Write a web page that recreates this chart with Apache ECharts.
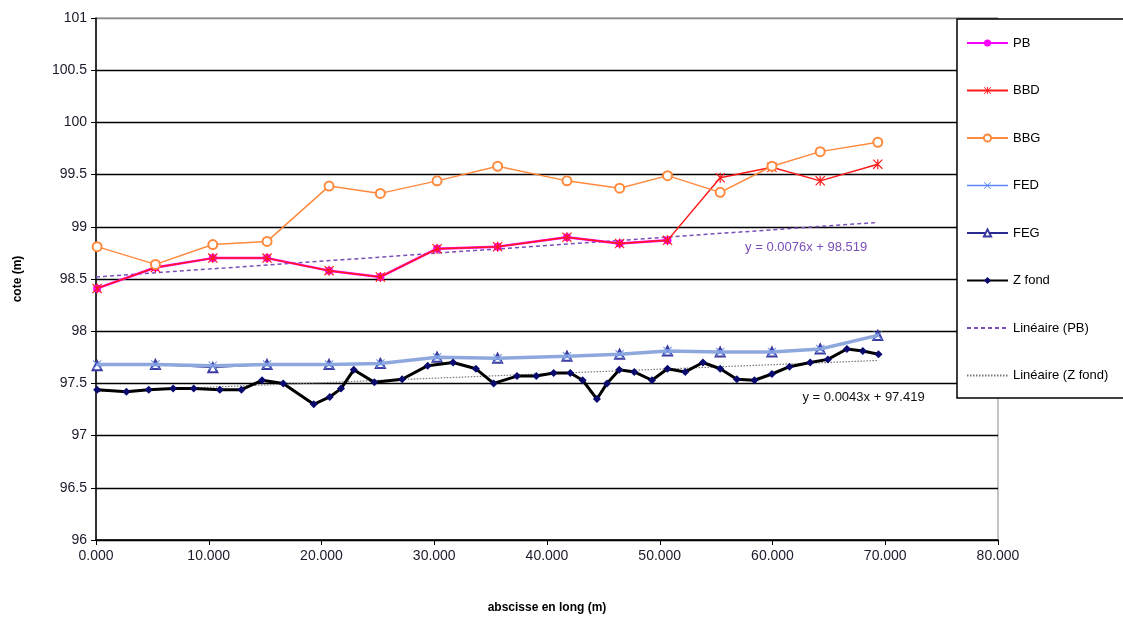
<!DOCTYPE html>
<html><head><meta charset="utf-8">
<script src="https://cdn.jsdelivr.net/npm/echarts@6/dist/echarts.min.js"></script>
<style>html,body{margin:0;padding:0;background:#fff}#c{width:1123px;height:619px}</style>
</head><body><div id="c"></div>
<script>
// ---- data ----
const xStations = [0.1, 5.27, 10.36, 15.17, 20.67, 25.22, 30.25, 35.62, 41.77, 46.44, 50.69, 55.36, 59.95, 64.23, 69.34];
const pbValues  = [98.41, 98.61, 98.70, 98.70, 98.58, 98.52, 98.79, 98.81, 98.90, 98.84, 98.87];
const bbdValues = [98.41, 98.61, 98.70, 98.70, 98.58, 98.52, 98.79, 98.81, 98.90, 98.84, 98.87, 99.47, 99.57, 99.44, 99.60];
const bbgValues = [98.81, 98.64, 98.83, 98.86, 99.39, 99.32, 99.44, 99.58, 99.44, 99.37, 99.49, 99.33, 99.58, 99.72, 99.81];
const fedValues = [97.68, 97.68, 97.67, 97.68, 97.68, 97.69, 97.75, 97.74, 97.76, 97.78, 97.81, 97.80, 97.80, 97.83, 97.96];
const fegValues = [97.67, 97.68, 97.65, 97.68, 97.68, 97.69, 97.75, 97.74, 97.76, 97.78, 97.81, 97.80, 97.80, 97.83, 97.96];
const zFondX = [0.1, 2.7, 4.68, 6.84, 8.67, 10.98, 12.9, 14.73, 16.6, 19.31, 20.73, 21.73, 22.86, 24.69, 27.15, 29.42, 31.67, 33.7, 35.27, 37.34, 39.05, 40.59, 42.07, 43.16, 44.43, 45.32, 46.41, 47.74, 49.31, 50.69, 52.26, 53.83, 55.36, 56.84, 58.4, 59.95, 61.51, 63.34, 64.91, 66.6, 68.01, 69.4];
const zFondValues = [97.44, 97.42, 97.44, 97.45, 97.45, 97.44, 97.44, 97.53, 97.50, 97.30, 97.37, 97.45, 97.63, 97.51, 97.54, 97.67, 97.70, 97.64, 97.50, 97.57, 97.57, 97.60, 97.60, 97.53, 97.35, 97.50, 97.63, 97.61, 97.53, 97.64, 97.61, 97.70, 97.64, 97.54, 97.53, 97.59, 97.66, 97.70, 97.73, 97.83, 97.81, 97.78];
const trendPB = [[0, 98.52], [69.1, 99.04]];
const trendZ  = [[0, 97.42], [69.4, 97.72]];
const eqPB = 'y = 0.0076x + 98.519';
const eqZ  = 'y = 0.0043x + 97.419';
const xTickLabels = ['0.000', '10.000', '20.000', '30.000', '40.000', '50.000', '60.000', '70.000', '80.000'];
const seriesNames = ['PB', 'BBD', 'BBG', 'FED', 'FEG', 'Z fond', 'Linéaire (PB)', 'Linéaire (Z fond)'];

// ---- helpers ----
const pair = (xs, ys) => ys.map((v, i) => [xs[i], v]);
const STAR = 'path://M4.4,0 L5.6,0 L5.6,10 L4.4,10 Z M0.8,0 L10,9.2 L9.2,10 L0,0.8 Z M9.2,0 L10,0.8 L0.8,10 L0,9.2 Z';
const XMARK = 'path://M0.8,0 L10,9.2 L9.2,10 L0,0.8 Z M9.2,0 L10,0.8 L0.8,10 L0,9.2 Z';
const FONT = 'Liberation Sans';

const chart = echarts.init(document.getElementById('c'));
const splitColors = new Array(10).fill('#000').concat(['#8a8a8a']);
const legendData = seriesNames.map(n => {
  if (n.indexOf('Linéaire') === 0) return { name: n, itemStyle: { opacity: 0 } };
  if (n === 'FED') return { name: n, lineStyle: { color: '#5a86f5', width: 1.5 }, itemStyle: { color: '#5a86f5' } };
  return { name: n };
});

chart.setOption({
  animation: false,
  backgroundColor: '#fff',
  textStyle: { fontFamily: FONT },
  grid: { left: 96, right: 125, top: 18, bottom: 79, show: true, borderColor: '#8a8a8a', borderWidth: 1 },
  xAxis: {
    type: 'value', min: 0, max: 80, interval: 10,
    name: 'abscisse en long (m)', nameLocation: 'middle', nameGap: 62,
    nameTextStyle: { fontFamily: FONT, fontSize: 12, fontWeight: 'bold', color: '#000' },
    axisLine: { show: true, onZero: false, lineStyle: { color: '#000', width: 1.5 } },
    axisTick: { show: true, inside: false, length: 5, lineStyle: { color: '#000' } },
    axisLabel: { margin: 9, fontSize: 14, color: '#1a1a2a', fontFamily: FONT,
      formatter: (v) => xTickLabels[Math.round(v / 10)] },
    splitLine: { show: false }
  },
  yAxis: {
    type: 'value', min: 96, max: 101, interval: 0.5,
    name: 'cote (m)', nameLocation: 'middle', nameGap: 72, nameRotate: 90,
    nameTextStyle: { fontFamily: FONT, fontSize: 12, fontWeight: 'bold', color: '#000' },
    axisLine: { show: true, lineStyle: { color: '#000', width: 1.5 } },
    axisTick: { show: true, inside: false, length: 5, lineStyle: { color: '#000' } },
    axisLabel: { margin: 9, fontSize: 14, color: '#1a1a2a', fontFamily: FONT },
    splitLine: { show: true, lineStyle: { color: splitColors, width: 1.3 } }
  },
  legend: {
    orient: 'vertical', left: 966, top: 36, padding: 0,
    itemWidth: 41, itemHeight: 9, itemGap: 33.5,
    textStyle: { fontFamily: FONT, fontSize: 13, color: '#000', lineHeight: 14 },
    data: legendData, z: 60
  },
  graphic: [{
    type: 'rect', z: 50, silent: true,
    shape: { x: 957, y: 19, width: 200, height: 379 },
    style: { fill: '#fff', stroke: '#000', lineWidth: 1.5 }
  }],
  series: [
    { name: 'Linéaire (PB)', type: 'line', data: trendPB, symbol: 'none', z: 3,
      lineStyle: { color: '#7a4fb8', width: 1.5, type: [4, 3] }, itemStyle: { color: '#7a4fb8' },
      endLabel: { show: true, formatter: eqPB, color: '#7a4fb8', fontSize: 13, fontFamily: FONT,
        offset: [-130, 25], distance: 0 } },
    { name: 'Linéaire (Z fond)', type: 'line', data: trendZ, symbol: 'none', z: 3,
      lineStyle: { color: '#777', width: 1.2, type: [1.5, 1.5] }, itemStyle: { color: '#777' },
      endLabel: { show: true, formatter: eqZ, color: '#111', fontSize: 13, fontFamily: FONT,
        offset: [-76, 37], distance: 0 } },
    { name: 'PB', type: 'line', data: pair(xStations, pbValues), z: 4,
      symbol: 'circle', symbolSize: 8, lineStyle: { color: '#ff00ff', width: 2.5 }, itemStyle: { color: '#ff00ff' } },
    { name: 'BBD', type: 'line', data: pair(xStations, bbdValues), z: 5,
      symbol: STAR, symbolSize: 10, lineStyle: { color: '#ff1a1a', width: 1.5 }, itemStyle: { color: '#ff1a1a' } },
    { name: 'BBG', type: 'line', data: pair(xStations, bbgValues), z: 5,
      symbol: 'emptyCircle', symbolSize: 9, lineStyle: { color: '#ff8a3d', width: 1.5 },
      itemStyle: { color: '#ff8a3d', borderWidth: 1.5 } },
    { name: 'FED', type: 'line', data: pair(xStations, fedValues), z: 4.5,
      symbol: XMARK, symbolSize: 9, lineStyle: { color: '#8ea8de', width: 3.5 }, itemStyle: { color: '#6f93e6' } },
    { name: 'FEG', type: 'line', data: pair(xStations, fegValues), z: 4,
      symbol: 'emptyTriangle', symbolSize: 9, lineStyle: { color: '#2a2a8f', width: 1 },
      itemStyle: { color: '#3a3aa0', borderWidth: 1.2 } },
    { name: 'Z fond', type: 'line', data: pair(zFondX, zFondValues), z: 6,
      symbol: 'diamond', symbolSize: 8, lineStyle: { color: '#000', width: 3 }, itemStyle: { color: '#0a0a6e' } }
  ]
});
</script>
</body></html>
